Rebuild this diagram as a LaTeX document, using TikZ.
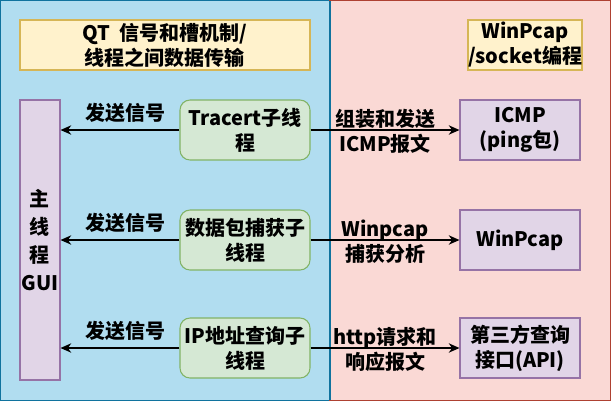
\documentclass[tikz,border=0pt]{standalone}
\usepackage{fontspec}
\setmainfont{Noto Sans CJK SC}
\usetikzlibrary{arrows.meta}
\definecolor{bluefill}{HTML}{B1DDF0}
\definecolor{bluedraw}{HTML}{10739E}
\definecolor{redfill}{HTML}{FAD9D5}
\definecolor{reddraw}{HTML}{AE4132}
\definecolor{yelfill}{HTML}{FFF2CC}
\definecolor{yeldraw}{HTML}{D6B656}
\definecolor{grnfill}{HTML}{D5E8D4}
\definecolor{grndraw}{HTML}{82B366}
\definecolor{purfill}{HTML}{E1D5E7}
\definecolor{purdraw}{HTML}{9673A6}
\tikzset{
  txt/.style={font=\bfseries\fontsize{15pt}{18.75pt}\selectfont, align=center, inner sep=0pt},
  panelA/.style={fill=bluefill, draw=bluedraw, line width=0.9pt},
  panelB/.style={fill=redfill, draw=reddraw, line width=0.9pt},
  notebox/.style={txt, rectangle, fill=yelfill, draw=yeldraw, line width=0.8pt},
  thrbox/.style={txt, rectangle, rounded corners=7.5pt, fill=grnfill, draw=grndraw, line width=0.8pt, minimum width=97.5pt, minimum height=45pt},
  extbox/.style={txt, rectangle, fill=purfill, draw=purdraw, line width=0.8pt, minimum width=90pt, minimum height=45pt},
  arr/.style={-{Stealth[length=8pt,width=7pt,inset=2.5pt]}, line width=1.1pt, black},
}
\begin{document}
\begin{tikzpicture}[x=0.75pt, y=-0.75pt]
\useasboundingbox (0,0) rectangle (611,401);
\fill[bluefill] (0,0) rectangle (331,401);
\draw[panelA] (0.6,0.6) rectangle (330,400.4);
\draw[panelB] (330,0.6) rectangle (610.4,400.4);
\draw[bluedraw, line width=0.9pt] (330,0.6) -- (330,400.4);

\node[notebox, minimum width=217.5pt, minimum height=37.5pt] (qt) at (165,45) {QT\ \ 信号和槽机制/\\线程之间数据传输};
\node[notebox, minimum width=82.5pt, minimum height=37.5pt] (wp) at (525,45) {WinPcap\\/socket编程};

\node[txt, rectangle, fill=purfill, draw=purdraw, line width=0.8pt, minimum width=30pt, minimum height=210pt, font=\bfseries\fontsize{15pt}{21pt}\selectfont] (gui) at (40,240) {主\\线\\程\\GUI};

\node[thrbox] (g1) at (245,130) {Tracert子线\\程};
\node[thrbox] (g2) at (245,240) {数据包捕获子\\线程};
\node[thrbox] (g3) at (245,348) {IP地址查询子\\线程};

\node[extbox] (p1) at (520,130) {ICMP\\(ping包)};
\node[extbox] (p2) at (520,240) {WinPcap};
\node[extbox] (p3) at (520,348) {第三方查询\\接口(API)};

\draw[arr] (g1.west) -- node[txt, midway, yshift=12.75pt, xshift=3.75pt] {发送信号} (g1.west -| gui.east);
\draw[arr] (g2.west) -- node[txt, midway, yshift=12.75pt, xshift=3.75pt] {发送信号} (g2.west -| gui.east);
\draw[arr] (g3.west) -- node[txt, midway, yshift=12.75pt, xshift=3.75pt] {发送信号} (g3.west -| gui.east);

\draw[arr] (g1.east) -- node[txt, midway, yshift=-1pt] {组装和发送\\ICMP报文} (p1.west);
\draw[arr] (g2.east) -- node[txt, midway, yshift=-1pt] {Winpcap\\捕获分析} (p2.west);
\draw[arr] (g3.east) -- node[txt, midway, yshift=-1pt] {http请求和\\响应报文} (p3.west);
\end{tikzpicture}
\end{document}
